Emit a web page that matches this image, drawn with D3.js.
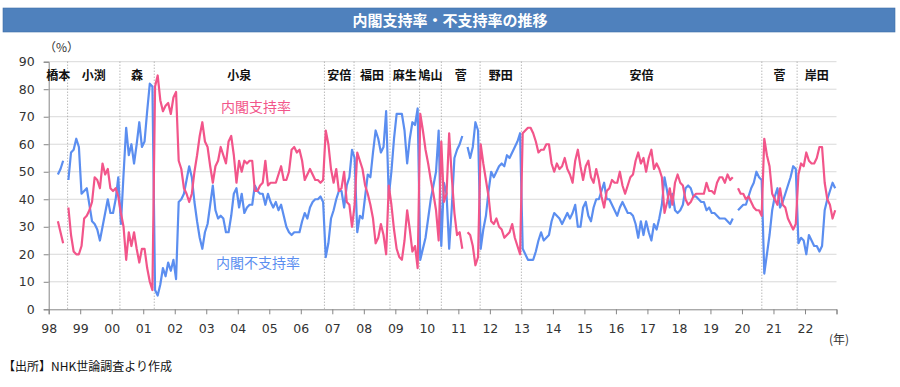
<!DOCTYPE html>
<html>
<head>
<meta charset="utf-8">
<script src="https://cdn.jsdelivr.net/npm/d3@7"></script>
<style>
    body { margin: 0; background: #ffffff; }
    svg text { font-family: 'Noto Sans CJK JP', 'Noto Sans', sans-serif; }
    .axis text { font-family: 'DejaVu Sans', sans-serif; font-size: 12.5px; fill: #333333; }
    .axis path, .axis line { stroke: #868686; }
</style>
</head>
<body>
<div id="chart"></div>
<script>
// NHK monthly poll, first value = April 1998, null = no poll that month
var startYear = 1998, startMonth = 4;

var approval = [
    32, 28, 24, null, 37, 27, 21, 20, 20,                  // 1998 Apr-Dec
    23, 33, 34, 36, 39, 48, 47, 44, 53, 49, 51, 44,        // 1999
    43, 44, 41, 35, 30, 18, 28, 23, 28, 22, 17, 22,        // 2000
    22, 15, 10, 7, 81, 85, 76, 72, 74, 75, 71, 77,         // 2001
    79, 54, 51, 44, 42, 39, 42, 50, 56, 63, 68, 61,        // 2002
    59, 52, 46, 52, 54, 59, 56, 53, 61, 63, 56, 46,        // 2003
    54, 50, 54, 53, 54, 54, 43, 43, 45, 46, 54, 45,        // 2004
    46, 46, 46, 49, 52, 47, 47, 50, 58, 59, 57, 58,        // 2005
    54, 47, 49, 51, 49, 47, 47, 46, 47, 65, 60, 51,        // 2006
    46, 51, 43, 44, 50, 39, 38, 30, 38, 57, 54, 51,        // 2007
    45, 42, 38, 33, 24, 26, 31, 27, 20, 45, 38, 29,        // 2008
    22, 19, 18, 25, 36, 29, 21, 23, 15, 71, 65, 58,        // 2009
    53, 47, 42, 36, 25, 61, 39, 42, 64, 48, 35, 27,        // 2010
    28, 22, null, 28, 27, 23, 16, 19, 60, 53, 47, 41,      // 2011
    32, 31, 33, 30, 29, 26, 27, 28, 31, 26, 23, 20,        // 2012
    64, 65, 66, 66, 64, 61, 57, 58, 58, 60, 60, 53,        // 2013
    50, 53, 51, 52, 55, 51, 49, 46, 54, 58, 52, 47,        // 2014
    52, 54, 48, 46, 51, 47, 41, 37, 43, 44, 47, 46,        // 2015
    46, 50, 45, 42, 45, 48, 49, 54, 57, 53, 55, 50,        // 2016
    55, 58, 51, 53, 51, 48, 35, 39, 44, 38, 46, 49,        // 2017
    46, 45, 40, 38, 39, 41, 42, 42, 42, 42, 46, 43,        // 2018
    43, 42, 46, 48, 48, 46, 49, 47, 48, null, 44, 42,      // 2019
    42, 40, 41, 39, 37, 36, 36, 34, 62, 56, 52, 42,        // 2020
    40, 38, 44, 38, 37, 33, 31, 29, 31, 49, 53, 52,        // 2021
    57, 54, 53, 53, 55, 59, 59, 46, 40, 38, 33, 36         // 2022
];

var disapproval = [
    49, 51, 54, null, 47, 57, 58, 62, 59,
    42, 43, 44, 38, 32, 31, 29, 25, 30, 35, 40, 35,
    35, 40, 48, 31, 49, 66, 56, 60, 53, 60, 68, 59,
    61, 72, 82, 81, 7, 5, 9, 15, 12, 17, 14, 18,
    11, 39, 40, 42, 47, 52, 48, 39, 32, 26, 22, 28,
    31, 38, 45, 36, 33, 34, 33, 28, 28, 34, 42, 44,
    37, 42, 35, 37, 38, 38, 45, 43, 42, 42, 38, 42,
    39, 37, 39, 36, 38, 34, 30, 28, 27, 28, 28, 28,
    32, 35, 33, 37, 39, 40, 40, 41, 39, 19, 24, 33,
    36, 40, 43, 43, 37, 45, 48, 58, 55, 28, 34, 33,
    41, 49, 48, 57, 65, 62, 57, 59, 72, 41, 50, 62,
    71, 71, 71, 65, 53, 62, 68, 67, 73, 18, 22, 26,
    33, 40, 45, 50, 65, 23, 46, 42, 22, 37, 55, 58,
    60, 63, null, 59, 55, 59, 68, 65, 22, 29, 34, 43,
    50, 48, 50, 52, 53, 52, 56, 55, 57, 59, 61, 64,
    22, 20, 18, 18, 18, 21, 25, 28, 25, 26, 27, 32,
    35, 34, 33, 31, 33, 35, 33, 35, 38, 30, 30, 37,
    39, 34, 32, 37, 40, 40, 43, 46, 40, 40, 38, 36,
    34, 37, 39, 37, 35, 35, 34, 31, 26, 32, 27, 32,
    28, 25, 31, 29, 33, 38, 48, 43, 37, 42, 36, 35,
    36, 38, 44, 45, 44, 41, 41, 40, 39, 39, 36, 37,
    35, 35, 34, 33, 33, 33, 32, 31, 33, null, 36, 37,
    38, 38, 41, 44, 46, 50, 48, 47, 13, 20, 27, 36,
    41, 44, 37, 39, 42, 45, 48, 52, 51, 24, 26, 25,
    20, 27, 25, 23, 23, 21, 23, 36, 40, 43, 46, 44
];

// prime ministers and the dates (decimal years) of the dotted dividers between them
var pmNames = ['橋本', '小渕', '森', '小泉', '安倍', '福田', '麻生', '鳩山', '菅', '野田', '安倍', '菅', '岸田'];
var pmBounds = [1998.60, 2000.26, 2001.35, 2006.75, 2007.69, 2008.83, 2009.77, 2010.46, 2011.69, 2013.00, 2020.63, 2021.75];

var yearTicks = d3.range(1998, 2024);
var yTicks = d3.range(0, 100, 10);

var title = '内閣支持率・不支持率の推移';
var source = '【出所】NHK世論調査より作成';

var width = 900, height = 387;
var grid = {left: 48.7, right: 836.5, top: 61.7, bottom: 309.3};
var pink = '#f2558a', blue = '#5b8ef0';

var svg = d3.select('#chart').append('svg')
        .attr('width', width)
        .attr('height', height);

var x = d3.scaleLinear().domain([1998, 2023]).range([grid.left, grid.right]);
var y = d3.scaleLinear().domain([0, 90]).range([grid.bottom, grid.top]);

// title bar
svg.append('rect')
        .attr('x', 3).attr('y', 8)
        .attr('width', 892).attr('height', 24)
        .attr('fill', '#4f81bd')
        .attr('stroke', '#3f6fa8').attr('stroke-width', 0.6);
svg.append('text')
        .attr('x', 450).attr('y', 25.5)
        .attr('text-anchor', 'middle')
        .style('font-size', '15px').style('font-weight', 'bold')
        .attr('fill', '#ffffff')
        .text(title);

// horizontal gridlines
svg.append('g').selectAll('line')
        .data(yTicks.filter(function(d){ return d > 0; }))
        .enter().append('line')
        .attr('x1', grid.left).attr('x2', grid.right)
        .attr('y1', function(d){ return y(d); })
        .attr('y2', function(d){ return y(d); })
        .attr('stroke', '#d9d9d9').attr('stroke-width', 1);

// axes
svg.append('g').attr('class', 'axis')
        .attr('transform', 'translate(' + grid.left + ',0)')
        .call(d3.axisLeft(y).tickValues(yTicks).tickSize(5).tickPadding(9));

svg.append('g').attr('class', 'axis')
        .attr('transform', 'translate(0,' + grid.bottom + ')')
        .call(d3.axisBottom(x).tickValues(yearTicks).tickSize(5).tickPadding(10)
                .tickFormat(function(d){ return d < 2023 ? String(d).slice(2) : ''; }));

svg.append('text')
        .attr('x', 44).attr('y', 52)
        .style('font-size', '12px').attr('fill', '#333333')
        .text('（%）');
svg.append('text')
        .attr('x', 839).attr('y', 344)
        .attr('text-anchor', 'middle')
        .style('font-size', '12px').attr('fill', '#333333')
        .text('(年)');

// prime minister dividers and names
svg.append('g').selectAll('line')
        .data(pmBounds)
        .enter().append('line')
        .attr('x1', function(d){ return x(d); })
        .attr('x2', function(d){ return x(d); })
        .attr('y1', grid.top).attr('y2', grid.bottom)
        .attr('stroke', '#9a9a9a').attr('stroke-width', 1)
        .attr('stroke-dasharray', '1,2');

var edges = [1998].concat(pmBounds, [2023]);
svg.append('g').selectAll('text')
        .data(pmNames)
        .enter().append('text')
        .attr('x', function(d, i){ return (x(edges[i]) + x(edges[i + 1])) / 2; })
        .attr('y', 79.5)
        .attr('text-anchor', 'middle')
        .style('font-size', '12px').style('font-weight', 'bold')
        .attr('fill', '#111111')
        .text(function(d){ return d; });

// series
var toPoints = function(values){
    return values.map(function(v, i){
        return {t: startYear + (startMonth - 1 + i + 0.5) / 12, v: v};
    });
};

var line = d3.line()
        .defined(function(d){ return d.v !== null; })
        .x(function(d){ return x(d.t); })
        .y(function(d){ return y(d.v); });

svg.append('path')
        .datum(toPoints(disapproval))
        .attr('d', line)
        .attr('fill', 'none').attr('stroke', blue)
        .attr('stroke-width', 2.2).attr('stroke-linejoin', 'round');

svg.append('path')
        .datum(toPoints(approval))
        .attr('d', line)
        .attr('fill', 'none').attr('stroke', pink)
        .attr('stroke-width', 2.2).attr('stroke-linejoin', 'round');

svg.append('text')
        .attr('x', 256).attr('y', 112)
        .attr('text-anchor', 'middle')
        .style('font-size', '14px').attr('fill', pink)
        .text('内閣支持率');
svg.append('text')
        .attr('x', 258).attr('y', 268)
        .attr('text-anchor', 'middle')
        .style('font-size', '14px').attr('fill', blue)
        .text('内閣不支持率');

svg.append('text')
        .attr('x', 3).attr('y', 371)
        .style('font-size', '12px').attr('fill', '#111111')
        .text(source);
</script>
</body>
</html>
